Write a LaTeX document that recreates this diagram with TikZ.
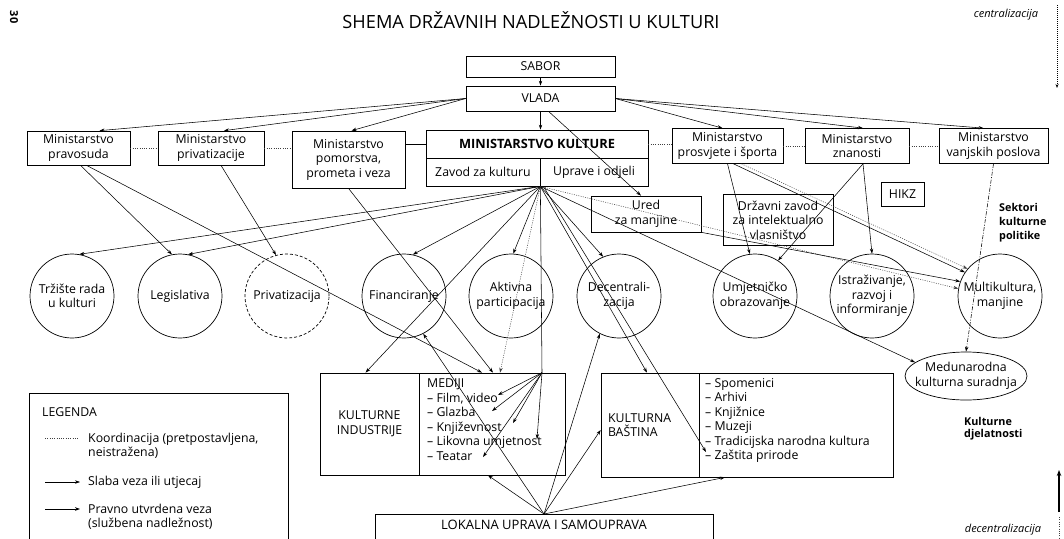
\documentclass[tikz,border=0pt]{standalone}
\usepackage{fontspec}
\setmainfont{Open Sans}
\usetikzlibrary{arrows.meta,shapes.geometric}
\newcommand\myfs{\fontsize{12.3}{14.5}\selectfont}
\newcommand\sidefs{\bfseries\fontsize{10.8}{14}\selectfont}
\begin{document}
\begin{tikzpicture}[x=1pt,y=-1pt,
  bx/.style={draw, line width=0.7pt, align=center, inner sep=1pt, font=\myfs},
  crc/.style={draw, circle, minimum size=84pt, inner sep=0pt, line width=0.7pt, align=center, font=\myfs},
  ar/.style={-{Stealth[length=5pt,width=3.4pt]}, line width=0.55pt},
  dl/.style={dash pattern=on 1pt off 1.3pt, line width=0.5pt, black!75},
  dlar/.style={dl, -{Stealth[length=5pt,width=3.4pt]}},
  lbl/.style={font=\myfs, inner sep=0pt, align=left},
  itl/.style={font=\itshape\fontsize{11}{12}\selectfont, inner sep=0pt},
]
\useasboundingbox (0,0) rectangle (1064,538);
\fill[white] (0,0) rectangle (1064,538);

% title and page marks
\node[font=\fontsize{18.2}{21}\selectfont] (title) at (531,20) {SHEMA DRŽAVNIH NADLEŽNOSTI U KULTURI};
\node[font=\bfseries\fontsize{11}{12}\selectfont, rotate=-90] (pg) at (14,17) {30};
\node[itl] (cen) at (1006,15) {centralizacija};
\coordinate (ct) at (1057,5);
\coordinate (cb) at (1057,88);
\draw[dash pattern=on 1pt off 1pt, line width=0.7pt, -{Stealth[length=4pt,width=3pt]}] (ct) -- (cb);
\node[itl] (dcn) at (1003,530) {decentralizacija};
\coordinate (dt) at (1059,470);
\coordinate (db) at (1059,512);
\coordinate (dz) at (1059,538);
\draw[line width=1.6pt, -{Stealth[length=6pt,width=4.5pt]}] (db) -- (dt);
\draw[dl] ([yshift=-5pt]db) -- (dz);

% top boxes
\node[bx, minimum width=149pt, minimum height=21pt] (sabor) at (540.5,66.5) {SABOR};
\node[bx, minimum width=149pt, minimum height=25pt] (vlada) at (540.5,98.5) {VLADA};

% ministries
\node[bx, minimum width=103pt, minimum height=34pt] (pravo) at (78.5,148) {Ministarstvo\\pravosuda};
\node[bx, minimum width=106pt, minimum height=34pt] (privat) at (211,148) {Ministarstvo\\privatizacije};
\node[bx, minimum width=113pt, minimum height=57pt] (pomor) at (348.5,159.5) {Ministarstvo\\pomorstva,\\prometa i veza};
\node[bx, minimum width=222pt, minimum height=28pt, font=\bfseries\fontsize{12.8}{14}\selectfont] (mkh) at (537,144) {MINISTARSTVO KULTURE};
\node[bx, minimum width=114pt, minimum height=28pt] (mkz) at (483,172) {Zavod za kulturu};
\node[bx, minimum width=108pt, minimum height=28pt] (mku) at (594,172) {Uprave i odjeli};
\node[bx, minimum width=111pt, minimum height=35pt] (prosv) at (727.5,146) {Ministarstvo\\prosvjete i športa};
\node[bx, minimum width=104pt, minimum height=35pt] (znan) at (857,146) {Ministarstvo\\znanosti};
\node[bx, minimum width=109pt, minimum height=35pt] (vanj) at (993.5,146) {Ministarstvo\\vanjskih poslova};

\node[bx, minimum width=110pt, minimum height=36pt] (ured) at (646,214) {Ured\\za manjine};
\node[bx, minimum width=110pt, minimum height=51pt] (drz) at (778,220) {Državni zavod\\za intelektualno\\vlasništvo};
\node[bx, minimum width=43pt, minimum height=24pt] (hikz) at (902.5,194) {HIKZ};

% circles
\node[crc] (trz) at (72,296) {Tržište rada\\u kulturi};
\node[crc] (leg) at (180,296) {Legislativa};
\node[crc, dash pattern=on 3pt off 2pt] (prv) at (287,296) {Privatizacija};
\node[crc] (fin) at (404,296) {Financiranje};
\node[crc] (akt) at (511,296) {\makebox[0pt]{Aktivna}\\\makebox[0pt]{participacija}};
\node[crc] (dec) at (619,296) {Decentrali-\\zacija};
\node[crc] (umj) at (755,296) {\makebox[0pt]{Umjetničko}\\\makebox[0pt]{obrazovanje}};
\node[crc] (ist) at (872,296) {\makebox[0pt]{Istraživanje,}\\\makebox[0pt]{razvoj i}\\\makebox[0pt]{informiranje}};
\node[crc] (mul) at (1000,296) {\makebox[0pt]{Multikultura,}\\\makebox[0pt]{manjine}};
\node[draw, ellipse, line width=0.7pt, minimum width=122pt, minimum height=48pt, inner sep=0pt, align=center, font=\myfs] (ell) at (966,376) {\makebox[0pt]{Medunarodna}\\\makebox[0pt]{kulturna suradnja}};

% side labels
\node[lbl, font=\sidefs, anchor=north west] (sek) at (999,203) {Sektori\\kulturne\\politike};
\node[lbl, font=\sidefs, anchor=north west, align=left] (kdj) at (964,417) {Kulturne\\[-1.5pt]djelatnosti};

% bottom boxes
\node[bx, minimum width=99pt, minimum height=102pt] (kinl) at (369.5,424) {KULTURNE\\INDUSTRIJE};
\node[bx, minimum width=146pt, minimum height=102pt] (med) at (492,424) {};
\node[lbl, anchor=north west] (medl) at (427,379) {MEDIJI\\– Film, video\\– Glazba\\– Književnost\\– Likovna umjetnost\\– Teatar};
\node[bx, minimum width=98pt, minimum height=104pt, text width=84pt, align=left] (basl) at (650,425) {KULTURNA\\BAŠTINA};
\node[bx, minimum width=194pt, minimum height=104pt] (basr) at (796,425) {};
\node[lbl, anchor=north west] (basli) at (705,378) {– Spomenici\\– Arhivi\\– Knjižnice\\– Muzeji\\– Tradicijska narodna kultura\\– Zaštita prirode};

% lokalna uprava
\draw[line width=0.7pt] (375,560) |- (713,514) -- (713,560);
\node[font=\fontsize{13}{14}\selectfont] (lok) at (544,525) {LOKALNA UPRAVA I SAMOUPRAVA};
\coordinate (lf) at (544,514);

% legend
\draw[line width=0.7pt] (29,393) rectangle (288,560);
\node[lbl, anchor=west] (lg) at (42,412) {LEGENDA};
\coordinate (l1a) at (45,438); \coordinate (l1b) at (79,438);
\draw[dl] (l1a) -- (l1b);
\node[lbl, anchor=north west] (lt1) at (88,432.5) {Koordinacija (pretpostavljena,\\neistražena)};
\coordinate (l2a) at (45,482); \coordinate (l2b) at (80,482);
\draw[-{Stealth[length=5pt,width=3.4pt]}, line width=0.45pt] (l2a) -- (l2b);
\node[lbl, anchor=west] (lt2) at (88,482) {Slaba veza ili utjecaj};
\coordinate (l3a) at (45,509); \coordinate (l3b) at (80,509);
\draw[-{Stealth[length=5pt,width=3.6pt]}, line width=0.8pt] (l3a) -- (l3b);
\node[lbl, anchor=north west] (lt3) at (88,503.5) {Pravno utvrdena veza\\(službena nadležnost)};

% ---- connectors ----
\draw[ar] (sabor) -- (vlada);
\draw[ar] (vlada.south) -- (vlada.south |- mkh.north);
\draw[ar] (vlada.west) -- ([xshift=21pt]pravo.north);
\draw[ar] (vlada.west) -- ([xshift=13pt]privat.north);
\draw[ar] (vlada.west) -- ([xshift=3pt]pomor.north);
\draw[ar] (vlada.east) -- ([xshift=-5pt]prosv.north);
\draw[ar] (vlada.east) -- ([xshift=6pt]znan.north);
\draw[ar] (vlada.east) -- ([xshift=-10pt]vanj.north);
\draw[ar] ([xshift=8pt]vlada.south) -- ([xshift=-5pt]ured.north);

\draw[dl] (pravo.east) -- (privat.west);
\draw[dl] (privat.east) -- (privat.east -| pomor.west);
\draw[line width=0.6pt] (mkh.west -| pomor.east) -- (mkh.west);
\draw[dl] (mkh.east) -- (mkh.east -| prosv.west);
\draw[dl] (prosv.east) -- (znan.west);
\draw[dl] (znan.east) -- (vanj.west);

% MK fan
\coordinate (mkf) at (mkz.south east);
\coordinate (medf) at ([xshift=50pt]med.north);
\coordinate (bz) at (706,452);
\draw[ar] (mkf) -- (trz.80);
\draw[ar] (mkf) -- (leg.79);
\draw[ar] (mkf) -- (fin.78);
\draw[ar] (mkf) -- (akt.87);
\draw[ar] (mkf) -- (dec.112);
\draw[ar] (mkf) -- ([xshift=-4pt]kinl.north);
\draw[dlar] (mkf) -- ([xshift=8pt]med.north);
\draw[line width=0.55pt] (mkf) -- (medf);
\draw[ar] (mkf) -- ([xshift=-3pt]basl.north);
\draw[ar] ([xshift=3pt]mkf) -- (bz);
\draw[ar] (mkf) -- (ell.165);
\draw[dlar] (mkf) -- (mul.170);

% inside MEDIJI
\coordinate (m1) at (498,395);
\coordinate (m2) at (492,411);
\coordinate (m3) at (513,423);
\coordinate (m4) at (537,439);
\coordinate (m5) at (483,457);
\foreach \t in {m1,m2,m3,m4,m5} \draw[ar] (medf) -- (\t);

% ministries downward
\draw[ar] ([xshift=2pt]pravo.south) -- (leg.101);
\draw[ar] ([xshift=8pt]pravo.south) -- ([xshift=-10pt]med.north);
\draw[ar] ([xshift=10pt]privat.south) -- (prv.105);
\draw[ar] (pomor.south) -- ([xshift=1pt]med.north);
\draw[ar] (prosv.south) -- (umj.97);
\draw[ar] ([xshift=6pt]prosv.south) -- (mul.146);
\draw[dlar] ([xshift=14pt]prosv.south) -- (mul.140);
\draw[ar] ([xshift=6pt]znan.south) -- (umj.57);
\draw[ar] ([xshift=6pt]znan.south) -- (ist.90);
\draw[ar, dash pattern=on 4pt off 1.5pt on 1pt off 1.5pt] (vanj.south) -- (ell.north);
\draw[ar] (ured.south east) -- (mul.160);

% LOKALNA fan
\draw[ar] (lf) -- ([xshift=-4pt]med.south);
\draw[ar] (lf) -- (fin.297);
\draw[ar] (lf) -- (dec.243);
\draw[ar] (lf) -- ([yshift=-5pt]basl.west);
\draw[ar] (lf) -- ([xshift=-71pt]basr.south);
\end{tikzpicture}
\end{document}
